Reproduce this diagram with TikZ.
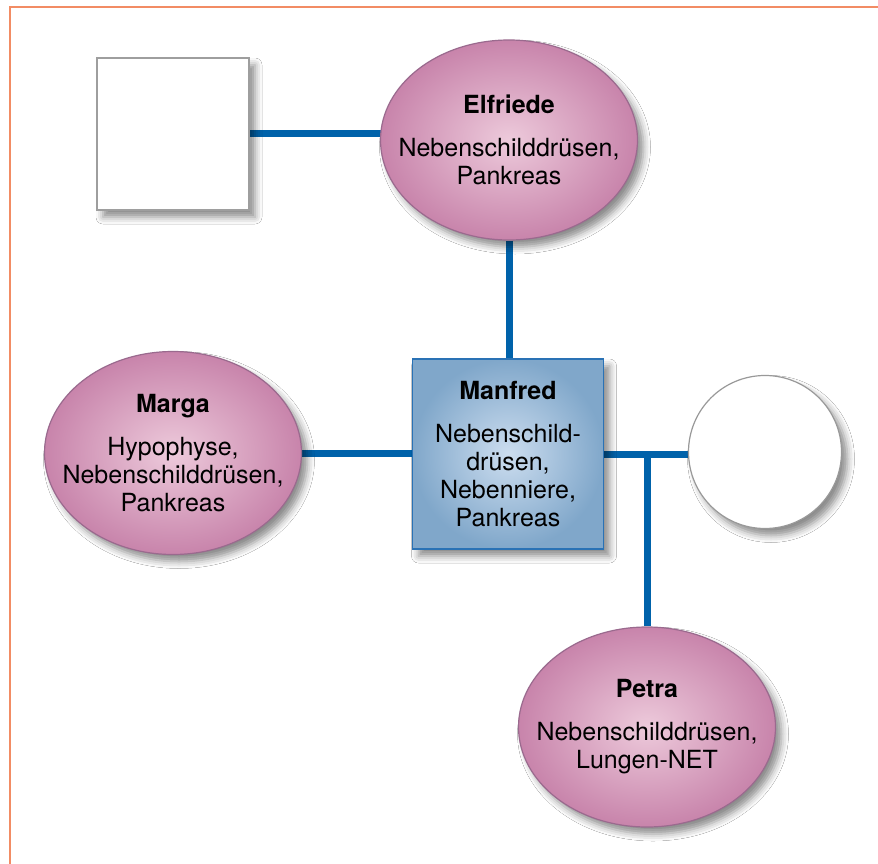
\documentclass[tikz,border=0pt]{standalone}
\usepackage{fontspec}
\setmainfont{TeX Gyre Heros}
\usetikzlibrary{shapes.geometric,shadows.blur,backgrounds}
\definecolor{linkblue}{HTML}{0062AA}
\definecolor{pinkin}{HTML}{EDCADB}
\definecolor{pinkout}{HTML}{C884AB}
\definecolor{pinkrim}{HTML}{9A6A8E}
\definecolor{bluein}{HTML}{CCDDEF}
\definecolor{blueout}{HTML}{80A7CA}
\definecolor{bluerim}{HTML}{2A72B5}
\definecolor{framecol}{HTML}{F28C64}
\tikzstyle{person}=[%
	blur shadow={shadow xshift=6pt, shadow yshift=-7pt, shadow blur radius=7pt, shadow opacity=45},
	align=center, inner sep=0, font=\fontsize{25}{28}\selectfont
]
\tikzstyle{female}=[person, ellipse, shading=radial, inner color=pinkin, outer color=pinkout,
	draw=pinkrim, line width=1.2pt, inner xsep=-22pt, minimum width=257pt, minimum height=200pt]
\tikzstyle{male}=[person, rectangle, shading=radial, inner color=bluein, outer color=blueout,
	draw=bluerim, line width=1.5pt, minimum width=191pt, minimum height=190pt]
\tikzstyle{unknownm}=[person, rectangle, fill=white, draw=black!38, line width=2pt,
	minimum size=152pt]
\tikzstyle{unknownf}=[person, circle, fill=white, draw=black!40, line width=1.2pt,
	minimum size=153pt]
\tikzstyle{link}=[linkblue, line width=7pt]

\begin{document}
\begin{tikzpicture}[x=1pt, y=-1pt]
	\useasboundingbox (0,0) rectangle (878,864);

	\node[unknownm] (father) at (173,134) {};
	\node[female] (elfriede) at (509,140) {\textbf{Elfriede}\\[15pt]Nebenschilddrüsen,\\Pankreas};
	\node[male] (manfred) at (508,454) {\textbf{Manfred}\\[15pt]Nebenschild-\\drüsen,\\Nebenniere,\\Pankreas};
	\node[female, minimum height=203pt] (marga) at (173,453) {\textbf{Marga}\\[15pt]Hypophyse,\\Nebenschilddrüsen,\\Pankreas};
	\node[unknownf] (wife) at (765,452) {};
	\node[female] (petra) at (647,727) {\textbf{Petra}\\[15pt]Nebenschilddrüsen,\\Lungen-NET};

	\coordinate (tee) at (manfred -| petra);

	\begin{scope}[on background layer]
		\fill[white] (0,0) rectangle (878,864);
		\draw[framecol, line width=1.5pt] (878,7) -- (10,7) -- (10,864);

		\draw[link] (father) -- (father -| elfriede);
		\draw[link] (elfriede) -- (elfriede |- manfred);
		\draw[link] (marga) -- (marga -| manfred);
		\draw[link] (manfred) -- (manfred -| wife);
		\draw[link] (tee) -- (petra);
	\end{scope}
\end{tikzpicture}
\end{document}
